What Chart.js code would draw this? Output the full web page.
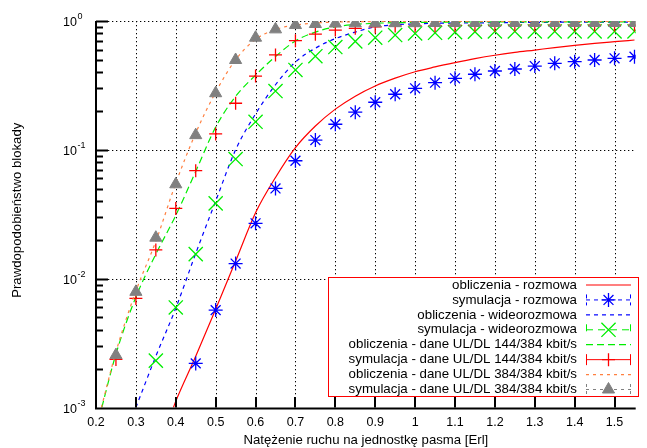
<!DOCTYPE html>
<html><head><meta charset="utf-8">
<script src="https://cdn.jsdelivr.net/npm/chart.js@4.4.1/dist/chart.umd.min.js"></script>
<style>html,body{margin:0;padding:0;background:#fff;overflow:hidden}canvas{display:block}</style>
</head><body>
<canvas id="c" width="647" height="448"></canvas>
<script>
// ---- tick values / labels ----
const xTicks = [0.2,0.3,0.4,0.5,0.6,0.7,0.8,0.9,1.0,1.1,1.2,1.3,1.4,1.5];
const xTickLabels = ['0.2','0.3','0.4','0.5','0.6','0.7','0.8','0.9','1','1.1','1.2','1.3','1.4','1.5'];
const yTicks = [1,0.1,0.01,0.001];
const yTickExponents = ['0','-1','-2','-3'];
const xTitle = 'Natężenie ruchu na jednostkę pasma [Erl]';
const yTitle = 'Prawdopodobieństwo blokady';
const seriesNames = [
  'obliczenia - rozmowa',
  'symulacja - rozmowa',
  'obliczenia - wideorozmowa',
  'symulacja - wideorozmowa',
  'obliczenia - dane UL/DL 144/384 kbit/s',
  'symulacja - dane UL/DL 144/384 kbit/s',
  'obliczenia - dane UL/DL 384/384 kbit/s',
  'symulacja - dane UL/DL 384/384 kbit/s'
];

// ---- simulation points ----
const simX = [0.25,0.3,0.35,0.4,0.45,0.5,0.55,0.6,0.65,0.7,0.75,0.8,0.85,0.9,0.95,1.0,1.05,1.1,1.15,1.2,1.25,1.3,1.35,1.4,1.45,1.5,1.55];
const simRozmowa = [null,null,null,null,0.0022,0.0057,0.0131,0.0269,0.0502,0.0823,0.119,0.158,0.196,0.234,0.270,0.300,0.332,0.359,0.386,0.409,0.424,0.447,0.469,0.483,0.498,0.513,0.528];
const simWideo = [null,null,0.00231,0.00598,0.0155,0.0384,0.0848,0.165,0.286,0.417,0.533,0.628,0.695,0.742,0.778,0.80,0.81,0.82,0.825,0.83,0.83,0.83,0.83,0.83,0.83,0.83,0.83];
const sim144 = [0.00236,0.00703,0.0167,0.0351,0.0689,0.133,0.23,0.374,0.545,0.703,0.79,0.85,0.877,0.90,0.915,0.92,0.92,0.925,0.925,0.925,0.93,0.93,0.93,0.93,0.93,0.93,0.93];
const sim384 = [0.00255,0.0079,0.0208,0.054,0.130,0.275,0.498,0.742,0.861,0.93,0.948,0.955,0.96,0.96,0.962,0.962,0.965,0.965,0.965,0.965,0.965,0.965,0.965,0.965,0.965,0.965,0.965];

// ---- calculated curves ----
const calcRozmowaX = [0.394,0.4,0.45,0.5,0.55,0.6,0.65,0.7,0.75,0.8,0.85,0.9,0.95,1.0,1.05,1.1,1.15,1.2,1.25,1.3,1.35,1.4,1.45,1.5,1.55];
const calcRozmowaY = [0.001,0.00112,0.0025,0.0058,0.0137,0.0325,0.061,0.104,0.153,0.207,0.261,0.313,0.36,0.404,0.44,0.475,0.51,0.542,0.57,0.595,0.622,0.647,0.67,0.691,0.712];
const calcWideoX = [0.3,0.35,0.4,0.45,0.5,0.55,0.6,0.65,0.7,0.75,0.8,0.85,0.9,0.95,1.0,1.05,1.1,1.2,1.3,1.4,1.5,1.55];
const calcWideoY = [0.001,0.0025,0.0059,0.0157,0.040,0.10,0.19,0.32,0.48,0.615,0.73,0.82,0.90,0.935,0.95,0.96,0.965,0.97,0.975,0.98,0.98,0.98];
const calc144X = [0.2145,0.25,0.3,0.35,0.4,0.45,0.5,0.55,0.6,0.65,0.7,0.75,0.8,0.85,0.9,0.95,1.0,1.1,1.2,1.3,1.4,1.5,1.55];
const calc144Y = [0.001,0.0026,0.0072,0.0155,0.031,0.068,0.15,0.26,0.38,0.53,0.70,0.82,0.90,0.94,0.96,0.97,0.975,0.98,0.985,0.985,0.985,0.985,0.985];
const calc384X = [0.2135,0.25,0.3,0.35,0.4,0.45,0.5,0.55,0.6,0.65,0.7,0.75,0.8,0.9,1.0,1.2,1.4,1.55];
const calc384Y = [0.001,0.0027,0.0080,0.0195,0.055,0.135,0.28,0.50,0.72,0.86,0.93,0.965,0.98,0.99,0.993,0.995,0.995,0.995];

const pts = (xs, ys) => xs.map((x,i)=>({x, y: ys[i]})).filter(p => p.y !== null);

const RED='#ff0000', BLUE='#0000ff', GREEN='#00ee00', ORANGE='#ff8040', GRAY='#808080';

const calcBase = {showLine:true, pointRadius:0, pointHoverRadius:0, fill:false, cubicInterpolationMode:'monotone'};
const simBase = {showLine:false, pointBorderWidth:1.3, pointHoverRadius:0};

const datasets = [
  Object.assign({}, calcBase, {label:seriesNames[0], data:pts(calcRozmowaX,calcRozmowaY), borderColor:RED, borderWidth:1.2, borderDash:[]}),
  Object.assign({}, simBase, {label:seriesNames[1], data:pts(simX,simRozmowa), borderColor:BLUE, backgroundColor:BLUE, pointStyle:'star', pointRadius:7, legendDash:[4,4]}),
  Object.assign({}, calcBase, {label:seriesNames[2], data:pts(calcWideoX,calcWideoY), borderColor:BLUE, borderWidth:1.2, borderDash:[4,4]}),
  Object.assign({}, simBase, {label:seriesNames[3], data:pts(simX,simWideo), borderColor:GREEN, backgroundColor:GREEN, pointStyle:'crossRot', pointRadius:10, legendDash:[7,5]}),
  Object.assign({}, calcBase, {label:seriesNames[4], data:pts(calc144X,calc144Y), borderColor:GREEN, borderWidth:1.2, borderDash:[7,4]}),
  Object.assign({}, simBase, {label:seriesNames[5], data:pts(simX,sim144), borderColor:RED, backgroundColor:RED, pointStyle:'cross', pointRadius:6.5, legendDash:[]}),
  Object.assign({}, calcBase, {label:seriesNames[6], data:pts(calc384X,calc384Y), borderColor:ORANGE, borderWidth:1.2, borderDash:[3,4]}),
  Object.assign({}, simBase, {label:seriesNames[7], data:pts(simX,sim384), borderColor:GRAY, backgroundColor:GRAY, pointStyle:'triangle', pointRadius:7, pointBorderWidth:1, legendDash:[3,4]})
];
datasets.forEach((d,i)=>{ d.order = datasets.length-1-i; });

const FONT = '"Liberation Sans", Arial, Helvetica, sans-serif';

const frame = {
  id:'frame',
  beforeDatasetsDraw(chart){
    const {ctx, chartArea:a, scales:{x,y}} = chart;
    ctx.save();
    ctx.strokeStyle='#000'; ctx.lineWidth=1; ctx.setLineDash([1.3,2.7]);
    xTicks.forEach(v=>{
      if (v === xTicks[0]) return;
      const px = Math.round(x.getPixelForValue(v))+0.5;
      ctx.beginPath(); ctx.moveTo(px,a.top); ctx.lineTo(px,a.bottom); ctx.stroke();
    });
    yTicks.forEach(v=>{
      if (v === yTicks[yTicks.length-1]) return;
      const py = Math.round(y.getPixelForValue(v))+0.5;
      ctx.beginPath(); ctx.moveTo(a.left,py); ctx.lineTo(a.right,py); ctx.stroke();
    });
    ctx.restore();
  },
  afterDatasetsDraw(chart){
    const {ctx, chartArea:a, scales:{x,y}} = chart;
    ctx.save();
    ctx.setLineDash([]);
    // axes
    ctx.strokeStyle='#000'; ctx.lineWidth=2;
    ctx.beginPath(); ctx.moveTo(a.left,a.top); ctx.lineTo(a.left,a.bottom+1); ctx.lineTo(a.right,a.bottom+1); ctx.stroke();
    // x ticks (inward)
    xTicks.forEach(v=>{
      const px = Math.round(x.getPixelForValue(v));
      ctx.beginPath(); ctx.moveTo(px,a.bottom); ctx.lineTo(px,a.bottom-10.5); ctx.stroke();
    });
    // y ticks major + minor
    yTicks.forEach((v,i)=>{
      const py = Math.round(y.getPixelForValue(v))+0.5;
      if (i < yTicks.length-1) { ctx.beginPath(); ctx.moveTo(a.left,py); ctx.lineTo(a.left+12,py); ctx.stroke(); }
      if (v < 1) {
        for (let m=2; m<=9; m++) {
          const pm = Math.round(y.getPixelForValue(v*m))+0.5;
          ctx.beginPath(); ctx.moveTo(a.left,pm); ctx.lineTo(a.left+7,pm); ctx.stroke();
        }
      }
    });
    // tick labels
    ctx.fillStyle='#000';
    ctx.font='12.5px '+FONT; ctx.textAlign='center'; ctx.textBaseline='middle';
    xTicks.forEach((v,i)=>{ ctx.fillText(xTickLabels[i], x.getPixelForValue(v), a.bottom+15); });
    yTicks.forEach((v,i)=>{
      const py = y.getPixelForValue(v);
      ctx.font='12.5px '+FONT; ctx.textAlign='right';
      ctx.fillText('10', 77, py+2);
      ctx.font='9px '+FONT; ctx.textAlign='left';
      ctx.fillText(yTickExponents[i], 77.5, py-4);
    });
    // titles
    ctx.font='13.2px '+FONT; ctx.textAlign='center';
    ctx.fillText(xTitle, (a.left+a.right)/2, a.bottom+33);
    ctx.save(); ctx.translate(17,(a.top+a.bottom)/2 - 4); ctx.rotate(-Math.PI/2); ctx.fillText(yTitle,0,0); ctx.restore();
    // legend
    const bx=328.5, by=277.5, bw=310, bh=119;
    ctx.fillStyle='#fff'; ctx.fillRect(bx,by,bw,bh);
    ctx.strokeStyle=RED; ctx.lineWidth=1; ctx.strokeRect(bx,by,bw,bh);
    const x0=586, x1=631, xc=608.5;
    chart.data.datasets.forEach((ds,i)=>{
      const ry = 285 + i*14.93;
      ctx.fillStyle='#000'; ctx.font='13.3px '+FONT; ctx.textAlign='right'; ctx.textBaseline='middle';
      ctx.fillText(ds.label, 577, ry);
      ctx.strokeStyle=ds.borderColor;
      if (ds.showLine) {
        ctx.lineWidth=ds.borderWidth; ctx.setLineDash(ds.borderDash||[]);
        ctx.beginPath(); ctx.moveTo(x0,ry); ctx.lineTo(x1,ry); ctx.stroke();
      } else {
        ctx.lineWidth=1; ctx.setLineDash(ds.legendDash);
        ctx.beginPath(); ctx.moveTo(x0,ry); ctx.lineTo(x1,ry); ctx.stroke();
        ctx.beginPath(); ctx.moveTo(x0+0.5,ry-5.5); ctx.lineTo(x0+0.5,ry+5.5); ctx.moveTo(x1-0.5,ry-5.5); ctx.lineTo(x1-0.5,ry+5.5); ctx.stroke();
        ctx.setLineDash([]);
        ctx.fillStyle=ds.backgroundColor; ctx.lineWidth=ds.pointBorderWidth;
        Chart.helpers.drawPoint(ctx,{pointStyle:ds.pointStyle, radius:ds.pointRadius, rotation:0, borderWidth:ds.pointBorderWidth}, xc, ry);
      }
    });
    ctx.restore();
  }
};

new Chart(document.getElementById('c'), {
  type:'line',
  data:{datasets},
  options:{
    responsive:false, animation:false, devicePixelRatio:1,
    layout:{padding:{left:96, right:0, top:21, bottom:40.5}},
    scales:{
      x:{type:'linear', min:0.2, max:1.553, display:false},
      y:{type:'logarithmic', min:0.001, max:1, display:false}
    },
    plugins:{legend:{display:false}, tooltip:{enabled:false}},
    events:[]
  },
  plugins:[frame]
});
</script>
</body></html>
